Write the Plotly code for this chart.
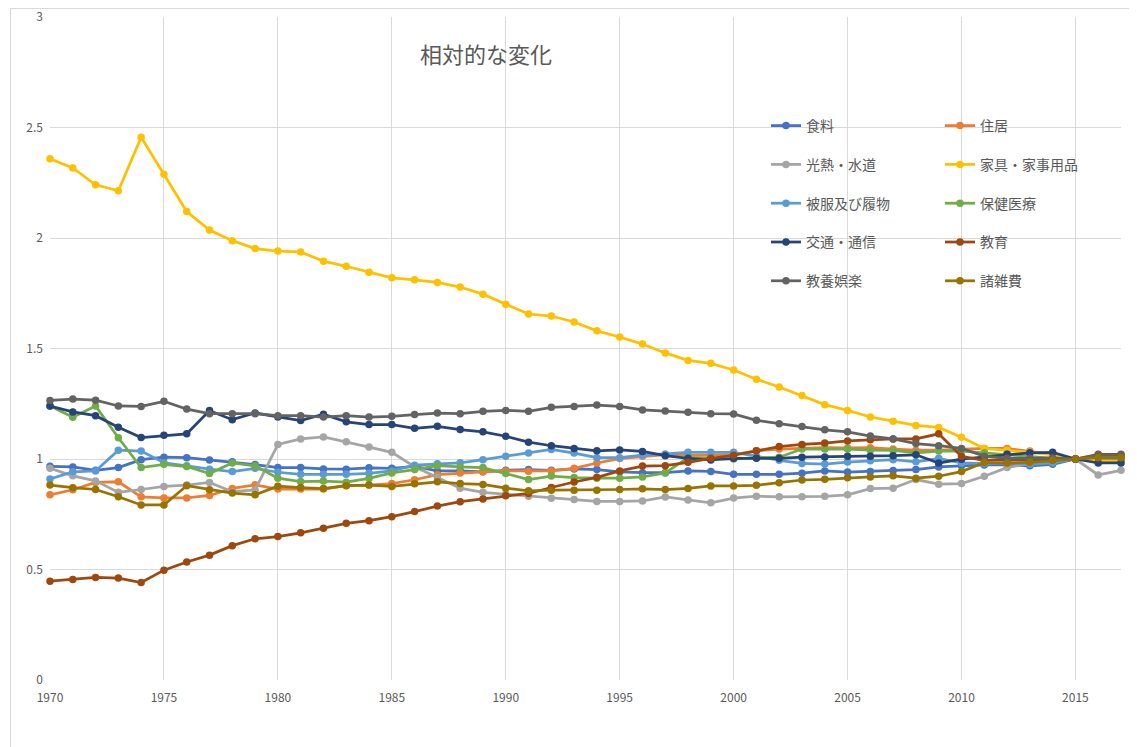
import plotly.graph_objects as go

years = list(range(1970, 2018))

food = [0.967, 0.964, 0.949, 0.961, 0.997, 1.008, 1.006, 0.996, 0.988, 0.975,
        0.961, 0.961, 0.955, 0.954, 0.960, 0.958, 0.967, 0.946, 0.946, 0.942,
        0.949, 0.952, 0.949, 0.955, 0.952, 0.942, 0.938, 0.938, 0.946, 0.944,
        0.931, 0.931, 0.931, 0.936, 0.946, 0.941, 0.943, 0.948, 0.952, 0.964,
        0.969, 0.973, 0.973, 0.969, 0.976, 1.000, 0.996, 0.996]
housing = [0.838, 0.861, 0.894, 0.897, 0.829, 0.824, 0.824, 0.835, 0.867, 0.883,
           0.864, 0.864, 0.864, 0.880, 0.882, 0.889, 0.906, 0.929, 0.937, 0.942,
           0.946, 0.945, 0.946, 0.958, 0.982, 1.002, 1.012, 1.020, 1.016, 1.016,
           1.020, 1.037, 1.045, 1.050, 1.052, 1.050, 1.051, 1.045, 1.040, 1.040,
           1.045, 1.048, 1.048, 1.036, 1.021, 1.000, 1.006, 1.006]
utilities = [0.958, 0.924, 0.901, 0.849, 0.862, 0.876, 0.882, 0.894, 0.852, 0.860,
             1.066, 1.091, 1.100, 1.078, 1.054, 1.030, 0.965, 0.916, 0.868, 0.849,
             0.841, 0.831, 0.822, 0.817, 0.808, 0.808, 0.810, 0.828, 0.814, 0.802,
             0.823, 0.832, 0.829, 0.829, 0.831, 0.838, 0.866, 0.868, 0.907, 0.886,
             0.889, 0.922, 0.961, 0.979, 0.990, 1.000, 0.928, 0.949]
furniture = [2.359, 2.317, 2.241, 2.214, 2.456, 2.288, 2.120, 2.036, 1.988, 1.952,
             1.941, 1.937, 1.895, 1.872, 1.845, 1.820, 1.811, 1.799, 1.778, 1.746,
             1.700, 1.656, 1.647, 1.620, 1.580, 1.552, 1.520, 1.480, 1.446, 1.433,
             1.403, 1.361, 1.326, 1.287, 1.246, 1.220, 1.190, 1.171, 1.152, 1.143,
             1.098, 1.048, 1.040, 1.030, 1.020, 1.000, 0.993, 0.990]
clothing = [0.910, 0.942, 0.946, 1.040, 1.036, 0.983, 0.969, 0.954, 0.943, 0.958,
            0.940, 0.931, 0.931, 0.931, 0.935, 0.946, 0.972, 0.979, 0.983, 0.997,
            1.012, 1.027, 1.043, 1.027, 1.006, 1.006, 1.017, 1.023, 1.030, 1.030,
            1.030, 1.013, 0.994, 0.980, 0.977, 0.986, 0.992, 0.997, 0.987, 1.003,
            0.982, 0.979, 0.982, 0.976, 0.982, 1.000, 1.009, 1.003]
medical = [1.240, 1.189, 1.240, 1.096, 0.961, 0.976, 0.966, 0.934, 0.982, 0.969,
           0.913, 0.898, 0.900, 0.895, 0.912, 0.937, 0.952, 0.970, 0.964, 0.961,
           0.934, 0.907, 0.923, 0.916, 0.913, 0.913, 0.919, 0.937, 1.006, 1.002,
           1.000, 1.006, 1.008, 1.045, 1.045, 1.045, 1.040, 1.039, 1.028, 1.036,
           1.036, 1.028, 1.021, 1.010, 1.003, 1.000, 1.009, 1.003]
transport = [1.240, 1.213, 1.196, 1.144, 1.097, 1.107, 1.114, 1.219, 1.178, 1.208,
             1.190, 1.174, 1.203, 1.168, 1.156, 1.156, 1.139, 1.148, 1.133, 1.123,
             1.103, 1.076, 1.060, 1.048, 1.037, 1.041, 1.034, 1.015, 1.003, 0.996,
             1.003, 1.003, 1.003, 1.008, 1.009, 1.013, 1.012, 1.015, 1.019, 0.982,
             0.999, 1.009, 1.021, 1.028, 1.030, 1.000, 0.982, 0.982]
education = [0.447, 0.455, 0.464, 0.461, 0.441, 0.497, 0.534, 0.565, 0.608, 0.639,
             0.649, 0.666, 0.687, 0.709, 0.721, 0.739, 0.762, 0.787, 0.807, 0.819,
             0.834, 0.844, 0.871, 0.896, 0.917, 0.946, 0.968, 0.970, 0.985, 1.003,
             1.017, 1.037, 1.056, 1.066, 1.072, 1.082, 1.087, 1.091, 1.091, 1.114,
             1.012, 0.994, 0.997, 0.994, 0.995, 1.000, 1.021, 1.021]
recreation = [1.265, 1.271, 1.266, 1.240, 1.238, 1.261, 1.226, 1.205, 1.205, 1.205,
              1.196, 1.196, 1.190, 1.196, 1.190, 1.193, 1.201, 1.208, 1.205, 1.216,
              1.220, 1.216, 1.234, 1.238, 1.244, 1.238, 1.222, 1.217, 1.211, 1.205,
              1.204, 1.175, 1.160, 1.147, 1.132, 1.123, 1.104, 1.091, 1.070, 1.060,
              1.048, 1.013, 1.003, 1.003, 1.005, 1.000, 1.018, 1.018]
misc = [0.882, 0.870, 0.862, 0.829, 0.792, 0.792, 0.879, 0.861, 0.846, 0.838,
        0.877, 0.871, 0.866, 0.879, 0.882, 0.876, 0.888, 0.897, 0.889, 0.885,
        0.868, 0.856, 0.859, 0.859, 0.859, 0.862, 0.865, 0.862, 0.867, 0.878,
        0.878, 0.881, 0.893, 0.905, 0.908, 0.915, 0.919, 0.924, 0.913, 0.922,
        0.943, 0.984, 0.982, 0.985, 0.994, 1.000, 1.006, 1.006]

names = ["食料", "住居", "光熱・水道", "家具・家事用品", "被服及び履物",
         "保健医療", "交通・通信", "教育", "教養娯楽", "諸雑費"]
series = [food, housing, utilities, furniture, clothing,
          medical, transport, education, recreation, misc]
colors = ["#4472C4", "#ED7D31", "#A5A5A5", "#FFC000", "#5B9BD5",
          "#70AD47", "#264478", "#9E480E", "#636363", "#997300"]
legend_of = ["legend", "legend2", "legend", "legend2", "legend",
             "legend2", "legend", "legend2", "legend", "legend2"]

title_text = "相対的な変化"
x_ticks = [1970, 1975, 1980, 1985, 1990, 1995, 2000, 2005, 2010, 2015]

FONT = "Noto Sans CJK JP, Noto Sans, sans-serif"
TXT = "#595959"
GRID = "#D9D9D9"

fig = go.Figure()
for name, vals, col, lg in zip(names, series, colors, legend_of):
    fig.add_trace(go.Scatter(
        x=years, y=vals, name=name, mode="lines+markers",
        line=dict(color=col, width=2.75),
        marker=dict(color=col, size=7.5),
        legend=lg, legendgroup=name, cliponaxis=False,
    ))

# page body has an 8px margin; figure sized to fit the window
OFF = 8
W, H = 1137 - OFF, 747 - OFF
L, R, T, B = 42, 16, 9, 67
pw = W - L - R
ph = H - T - B

def px2x(px):
    return (px - OFF - L) / pw

def py2y(py):
    return (H - B - (py - OFF)) / ph

legend_common = dict(
    yanchor="top", xanchor="left", bgcolor="rgba(0,0,0,0)",
    font=dict(family=FONT, size=14, color=TXT),
    tracegroupgap=17.6, itemwidth=30, orientation="v",
)

fig.update_layout(
    width=W, height=H,
    margin=dict(l=L, r=R, t=T, b=B, autoexpand=False),
    paper_bgcolor="white", plot_bgcolor="white",
    font=dict(family=FONT, color=TXT, size=12),
    legend=dict(x=px2x(766), y=py2y(110.0), **legend_common),
    legend2=dict(x=px2x(940), y=py2y(110.0), **legend_common),
    xaxis=dict(
        range=[1970, 2017], tickvals=x_ticks, ticktext=[str(v) for v in x_ticks],
        showgrid=True, gridcolor=GRID, gridwidth=1,
        showline=False, zeroline=False, ticks="", ticklabelstandoff=9,
        automargin=False, ticklabeloverflow="allow",
        tickfont=dict(family=FONT, size=12, color=TXT),
    ),
    yaxis=dict(
        range=[0, 3], dtick=0.5, tick0=0,
        showgrid=True, gridcolor=GRID, gridwidth=1,
        showline=False, zeroline=False, ticks="", ticklabelstandoff=6,
        automargin=False, ticklabeloverflow="allow",
        tickfont=dict(family=FONT, size=12, color=TXT),
    ),
    annotations=[dict(
        text=title_text, xref="paper", yref="paper",
        x=px2x(486), y=py2y(53), xanchor="center", yanchor="middle",
        showarrow=False, font=dict(family=FONT, size=22, color=TXT),
    )],
    shapes=[dict(
        type="rect", xref="paper", yref="paper",
        x0=px2x(10.5), x1=px2x(1150), y0=py2y(8.5), y1=py2y(760),
        line=dict(color=GRID, width=1), fillcolor="rgba(0,0,0,0)", layer="below",
    )],
)

fig.write_html("out.html")
